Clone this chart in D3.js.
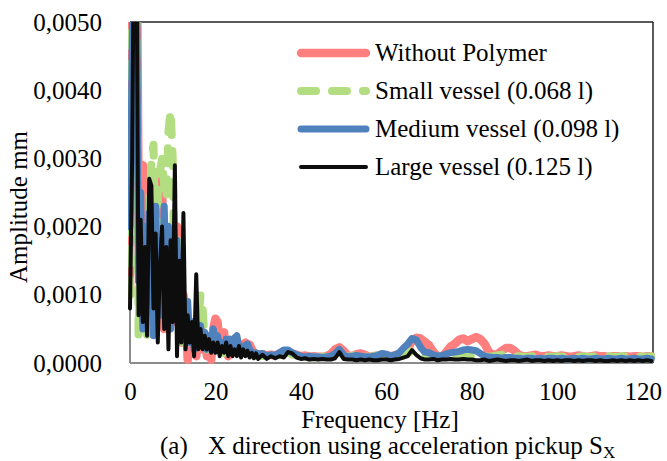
<!DOCTYPE html>
<html>
<head>
<meta charset="utf-8">
<script src="https://cdn.jsdelivr.net/npm/d3@7"></script>
<style>
  body { margin: 0; background: #fff; }
  svg { display: block; }
  text { font-family: "Liberation Serif", "Times New Roman", serif; fill: #000; }
</style>
</head>
<body>
<div id="chart"></div>
<script>
// frequency grid of the spectra (Hz): 0.5 Hz steps below 30 Hz, 1 Hz steps above
const freqLow = d3.range(0, 30, 0.5);
const freqHigh = d3.range(30, 123, 1);
const frequency = freqLow.concat(freqHigh);

const seriesNames = ['Without Polymer', 'Small vessel (0.068 l)', 'Medium vessel (0.098 l)', 'Large vessel (0.125 l)'];

// amplitude in mm
const withoutPolymer = [
  0.0010,0.0070,0.0075,0.0070,0.0025,0.0028,0.0029,0.0010,0.0015,0.0005,
  0.0024,0.0022,0.0008,0.0026,0.0018,0.0027,0.0005,0.0019,0.0015,0.0020,
  0.0006,0.0019,0.0020,0.0017,0.0003,0.0010,0.0008,0.00005,0.0005,0.0003,
  0.0006,0.0001,0.0004,0.0005,0.0002,0.0004,0.0001,0.00035,0.00005,0.0005,
  0.00065,0.0006,0.0002,0.0003,0.00045,0.0002,0.0001,0.0003,0.00025,0.00035,
  0.0003,0.00025,0.0002,0.00025,0.0003,0.00025,0.00027,0.0002,0.00015,0.00013,
  0.00012,0.00013,0.00011,0.00012,0.00011,0.00014,0.00016,0.00017,0.00013,0.00012,
  0.00010,0.00011,0.00009,0.00010,0.00009,0.00009,0.00010,0.00013,0.00020,0.00023,
  0.00018,0.00011,0.00010,0.00013,0.00014,0.00012,0.00009,0.00010,0.00011,0.00012,
  0.00011,0.00010,0.00011,0.00013,0.00015,0.00020,0.00033,0.00037,0.00036,0.00031,
  0.00026,0.00016,0.00010,0.00009,0.00016,0.00024,0.00028,0.00034,0.00036,0.00032,
  0.00035,0.00038,0.00035,0.00028,0.00016,0.00012,0.00013,0.00018,0.00022,0.00022,
  0.00018,0.00012,0.00010,0.00010,0.00011,0.00012,0.00010,0.00010,0.00011,0.00010,
  0.00010,0.00011,0.00010,0.00009,0.00010,0.00011,0.00010,0.00009,0.00010,0.00011,
  0.00010,0.00010,0.00009,0.00010,0.00010,0.00009,0.00010,0.00009,0.00010,0.00010,
  0.00009,0.00010,0.00010
];
const smallVessel = [
  0.0010,0.0060,0.0065,0.0055,0.0004,0.0020,0.0008,0.0018,0.0004,0.0020,
  0.0030,0.0032,0.0012,0.0025,0.0028,0.0030,0.0026,0.0024,0.0034,0.0037,
  0.0030,0.0008,0.0018,0.0006,0.0010,0.0003,0.0008,0.0004,0.0003,0.0005,
  0.0002,0.0006,0.0006,0.0010,0.0008,0.0003,0.0002,0.0003,0.00015,0.00025,
  0.0002,0.0003,0.00015,0.0002,0.00015,0.00025,0.00012,0.0002,0.00015,0.00025,
  0.00018,0.00015,0.00013,0.00018,0.00022,0.00015,0.00012,0.00013,0.00010,0.00012,
  0.00010,0.00011,0.00009,0.00010,0.00009,0.00012,0.00014,0.00015,0.00013,0.00010,
  0.00009,0.00009,0.00008,0.00009,0.00008,0.00009,0.00010,0.00011,0.00013,0.00015,
  0.00011,0.00009,0.00010,0.00015,0.00012,0.00010,0.00009,0.00010,0.00011,0.00012,
  0.00012,0.00016,0.00012,0.00011,0.00012,0.00014,0.00018,0.00015,0.00011,0.00010,
  0.00010,0.00009,0.00009,0.00010,0.00009,0.00010,0.00011,0.00010,0.00009,0.00010,
  0.00010,0.00009,0.00009,0.00010,0.00009,0.00010,0.00011,0.00012,0.00010,0.00009,
  0.00009,0.00010,0.00009,0.00009,0.00010,0.00009,0.00009,0.00010,0.00009,0.00009,
  0.00010,0.00009,0.00009,0.00010,0.00009,0.00009,0.00010,0.00009,0.00009,0.00010,
  0.00009,0.00009,0.00010,0.00009,0.00009,0.00010,0.00010,0.00009,0.00009,0.00010,
  0.00009,0.00009,0.00010
];
const mediumVessel = [
  0.0020,0.0045,0.0065,0.0060,0.0012,0.0025,0.0005,0.0020,0.0009,0.0022,
  0.0016,0.0004,0.0023,0.0010,0.0018,0.0007,0.0023,0.0012,0.0020,0.0005,
  0.0016,0.0011,0.0018,0.0004,0.0012,0.0006,0.0009,0.0009,0.0003,0.0006,
  0.0002,0.0005,0.0003,0.00055,0.00025,0.00045,0.0002,0.0004,0.0003,0.0005,
  0.0002,0.0004,0.0002,0.0003,0.0002,0.00035,0.0002,0.00035,0.00025,0.00037,
  0.0004,0.00025,0.00018,0.00022,0.00026,0.00028,0.00020,0.00016,0.00014,0.00015,
  0.00013,0.00014,0.00010,0.00012,0.00011,0.00015,0.00019,0.00019,0.00015,0.00012,
  0.00010,0.00009,0.00010,0.00009,0.00009,0.00008,0.00009,0.00010,0.00014,0.00020,
  0.00012,0.00009,0.00010,0.00011,0.00010,0.00009,0.00009,0.00010,0.00011,0.00014,
  0.00013,0.00010,0.00012,0.00015,0.00022,0.00028,0.00036,0.00034,0.00023,0.00016,
  0.00015,0.00012,0.00010,0.00011,0.00013,0.00015,0.00016,0.00017,0.00019,0.00020,
  0.00019,0.00018,0.00014,0.00010,0.00009,0.00008,0.00008,0.00007,0.00008,0.00008,
  0.00007,0.00007,0.00006,0.00007,0.00007,0.00006,0.00007,0.00006,0.00007,0.00007,
  0.00006,0.00007,0.00006,0.00006,0.00007,0.00006,0.00007,0.00006,0.00006,0.00007,
  0.00006,0.00006,0.00007,0.00006,0.00006,0.00007,0.00006,0.00006,0.00007,0.00006,
  0.00006,0.00007,0.00006
];
const largeVessel = [
  0.0008,0.0030,0.0070,0.0065,0.0007,0.0021,0.0006,0.0017,0.0004,0.0027,
  0.0026,0.0008,0.0019,0.0003,0.0014,0.0020,0.0005,0.0017,0.0002,0.0018,
  0.0006,0.0029,0.0001,0.0015,0.0003,0.0022,0.0002,0.0007,0.0003,0.0006,
  0.0001,0.0013,0.0002,0.0005,0.0002,0.0004,0.0002,0.00035,0.00015,0.0003,
  0.00015,0.0003,0.0001,0.00025,0.00015,0.0003,0.0001,0.00025,0.0001,0.0002,
  0.0001,0.00025,0.00008,0.0002,0.0001,0.00018,0.00008,0.00015,0.00007,0.00014,
  0.00006,0.00012,0.00006,0.00010,0.00007,0.00010,0.00008,0.00016,0.00014,0.00008,
  0.00006,0.00007,0.00005,0.00006,0.00005,0.00006,0.00005,0.00005,0.00007,0.00016,
  0.00006,0.00005,0.00005,0.00004,0.00005,0.00004,0.00005,0.00004,0.00004,0.00005,
  0.00005,0.00004,0.00005,0.00006,0.00008,0.00010,0.00019,0.00012,0.00007,0.00005,
  0.00005,0.00006,0.00004,0.00005,0.00005,0.00006,0.00005,0.00005,0.00006,0.00005,
  0.00005,0.00004,0.00004,0.00005,0.00003,0.00004,0.00005,0.00004,0.00003,0.00004,
  0.00004,0.00003,0.00004,0.00005,0.00003,0.00004,0.00004,0.00003,0.00004,0.00003,
  0.00004,0.00003,0.00004,0.00004,0.00003,0.00004,0.00003,0.00004,0.00004,0.00003,
  0.00004,0.00003,0.00003,0.00004,0.00003,0.00004,0.00003,0.00004,0.00003,0.00004,
  0.00003,0.00004,0.00003
];

const xTicks = [0, 20, 40, 60, 80, 100, 120];
const yTicks = [0, 0.001, 0.002, 0.003, 0.004, 0.005];

const width = 667, height = 461;
const plot = { left: 130, right: 653, top: 22, bottom: 363 };

// series styles in draw order (Excel draws first series underneath)
const styles = [
  { color: '#ff7f7f', width: 8.5, dash: null },
  { color: '#b2dd80', width: 8, dash: '15,16' },
  { color: '#4f81bd', width: 7, dash: null },
  { color: '#0d0d0d', width: 4, dash: null }
];
const allSeries = [withoutPolymer, smallVessel, mediumVessel, largeVessel];

const svg = d3.select('#chart')
  .append('svg')
  .attr('width', width)
  .attr('height', height);

const x = d3.scaleLinear().domain([0, 122.4]).range([plot.left, plot.right]);
const y = d3.scaleLinear().domain([0, 0.005]).range([plot.bottom, plot.top]);

const commaFmt = d3.formatLocale({ decimal: ',', thousands: '.', grouping: [3], currency: ['', ''] }).format('.4f');

// plot frame: grey axes left/bottom, dark lines top/right
svg.append('line').attr('x1', plot.left).attr('x2', plot.right).attr('y1', plot.top).attr('y2', plot.top)
  .attr('stroke', '#222').attr('stroke-width', 1.5);
svg.append('line').attr('x1', plot.right).attr('x2', plot.right).attr('y1', plot.top).attr('y2', plot.bottom)
  .attr('stroke', '#222').attr('stroke-width', 1.5);
svg.append('line').attr('x1', plot.left).attr('x2', plot.right).attr('y1', plot.bottom).attr('y2', plot.bottom)
  .attr('stroke', '#8c8c8c').attr('stroke-width', 2);
svg.append('line').attr('x1', plot.left).attr('x2', plot.left).attr('y1', plot.top).attr('y2', plot.bottom)
  .attr('stroke', '#8c8c8c').attr('stroke-width', 2);

// clip the spikes that run above 0,0050
svg.append('clipPath').attr('id', 'clip')
  .append('rect')
  .attr('x', plot.left - 2).attr('y', plot.top)
  .attr('width', plot.right - plot.left + 4).attr('height', plot.bottom - plot.top + 8);

const line = d3.line()
  .x(function(d, i) { return x(frequency[i]); })
  .y(function(d) { return y(d); });

const lines = svg.append('g').attr('clip-path', 'url(#clip)');
allSeries.forEach(function(s, k) {
  lines.append('path')
    .datum(s)
    .attr('d', line)
    .attr('fill', 'none')
    .attr('stroke', styles[k].color)
    .attr('stroke-width', styles[k].width)
    .attr('stroke-dasharray', styles[k].dash)
    .attr('stroke-linejoin', 'round')
    .attr('stroke-linecap', 'round');
});

// axes
const xAxis = svg.append('g')
  .attr('transform', 'translate(0,' + plot.bottom + ')')
  .call(d3.axisBottom(x).tickValues(xTicks).tickSize(0).tickPadding(19));
const yAxis = svg.append('g')
  .attr('transform', 'translate(' + plot.left + ',0)')
  .call(d3.axisLeft(y).tickValues(yTicks).tickSize(0).tickPadding(28).tickFormat(commaFmt));
[xAxis, yAxis].forEach(function(a) {
  a.select('.domain').remove();
  a.selectAll('text').style('font-family', '"Liberation Serif", serif').style('font-size', '25px').attr('fill', '#000');
});

// axis titles
svg.append('text')
  .attr('x', 380).attr('y', 428)
  .attr('text-anchor', 'middle')
  .style('font-size', '25px')
  .text('Frequency [Hz]');
svg.append('text')
  .attr('transform', 'translate(27,207) rotate(-90)')
  .attr('text-anchor', 'middle')
  .style('font-size', '25px')
  .text('Amplitude mm');

// legend
const legend = svg.append('g');
seriesNames.forEach(function(name, k) {
  const ly = 53 + k * 38;
  legend.append('line')
    .attr('x1', 301).attr('x2', 366).attr('y1', ly).attr('y2', ly)
    .attr('stroke', styles[k].color)
    .attr('stroke-width', styles[k].width)
    .attr('stroke-dasharray', styles[k].dash)
    .attr('stroke-linecap', 'round');
  legend.append('text')
    .attr('x', 375).attr('y', ly).attr('dy', '0.32em')
    .style('font-size', '25px')
    .text(name);
});

// caption
svg.append('text')
  .attr('x', 160).attr('y', 454)
  .style('font-size', '25px')
  .text('(a)');
const cap = svg.append('text')
  .attr('x', 208).attr('y', 454)
  .style('font-size', '25px')
  .text('X direction using acceleration pickup S');
cap.append('tspan')
  .attr('dy', 4)
  .style('font-size', '17px')
  .text('X');
</script>
</body>
</html>
